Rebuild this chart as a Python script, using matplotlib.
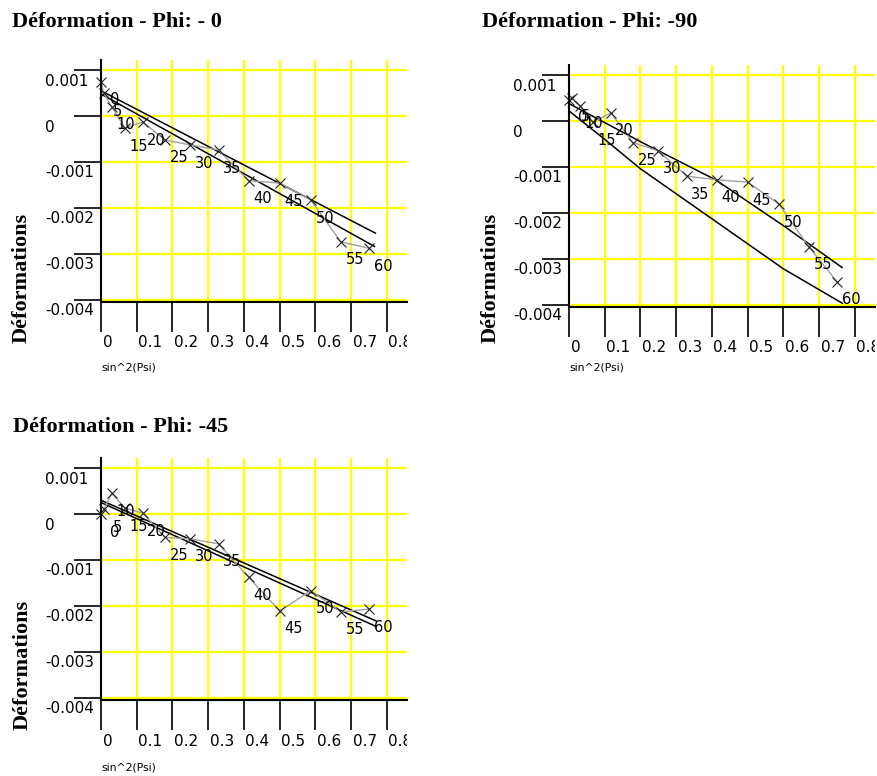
"""
deformation vs sin^2(psi) for three phi directions
"""
import matplotlib
matplotlib.use("Agg")
import matplotlib.pyplot as plt
from matplotlib.transforms import (Bbox, TransformedBbox,
                                   blended_transform_factory, offset_copy)

# sin^2(psi) positions of the measured points, psi = 0..60
sin2psi = [0, 0.0076, 0.0302, 0.067, 0.117, 0.179, 0.25,
           0.329, 0.413, 0.5, 0.587, 0.671, 0.75]
psi_labels = ["0", "5", "10", "15", "20", "25", "30",
              "35", "40", "45", "50", "55", "60"]

# measured strains
def_phi0 = [0.00075, 0.0005, 0.0002, -0.00026, -0.00013, -0.00052, -0.00063,
            -0.00074, -0.00141, -0.00146, -0.00183, -0.00274, -0.00288]
def_phi90 = [0.00046, 0.0005, 0.00033, -0.00003, 0.00018, -0.00047, -0.00065,
             -0.0012, -0.00128, -0.00133, -0.00181, -0.00274, -0.0035]
def_phi45 = [0.0, 0.0001, 0.00045, 0.00013, 0.00002, -0.00051, -0.00054,
             -0.00065, -0.00138, -0.00211, -0.00167, -0.00213, -0.00207]

# fitted curves (two per panel)
fit_phi0 = [([0, 0.7675], [0.00055, -0.00255]),
            ([0, 0.765], [0.00048, -0.00284])]
fit_phi90 = [([0, 0.2, 0.41, 0.6, 0.764],
              [0.00038, -0.00045, -0.00128, -0.00228, -0.00319]),
             ([0, 0.1, 0.2, 0.4, 0.6, 0.765],
              [0.00022, -0.0004, -0.00104, -0.00213, -0.00322, -0.00397])]
fit_phi45 = [([0, 0.77], [0.0003, -0.00233]),
             ([0, 0.77], [0.00025, -0.00245])]

x_ticks = [0, 0.1, 0.2, 0.3, 0.4, 0.5, 0.6, 0.7, 0.8]
x_ticklabels = ["0", "0.1", "0.2", "0.3", "0.4", "0.5", "0.6", "0.7", "0.8"]
y_ticks = [0.001, 0, -0.001, -0.002, -0.003, -0.004]
y_ticklabels = ["0.001", "0", "-0.001", "-0.002", "-0.003", "-0.004"]

W, H = 877, 776
AX_W, AX_H = 306, 242
fig = plt.figure(figsize=(W / 100, H / 100), dpi=100)
fig.patch.set_facecolor("white")

SERIF = "Liberation Serif"
SANS = "DejaVu Sans"


def px_axes(left, top):
    return fig.add_axes([left / W, 1 - (top + AX_H) / H, AX_W / W, AX_H / H])


def draw_panel(left, top, title, title_xy, ylabel_xy, xlabel_y, values, fits):
    ax = px_axes(left, top)
    ax.set_xlim(0, 0.856)
    ax.set_ylim(-0.00405, 0.00122)
    ax.set_facecolor("white")
    for s in ("top", "right"):
        ax.spines[s].set_visible(False)
    for s in ("left", "bottom"):
        ax.spines[s].set_linewidth(1.5)
        ax.spines[s].set_color("black")

    ax.set_xticks(x_ticks)
    ax.set_yticks(y_ticks)
    ax.tick_params(axis="x", direction="out", length=21.6, width=1.2,
                   color="black", labelbottom=False)
    ax.tick_params(axis="y", direction="out", length=19.4, width=1.2,
                   color="black", labelleft=False)
    ax.grid(True, color="#ffff00", linewidth=1.6)
    ax.set_axisbelow(True)

    # tick labels placed by hand (left aligned, under the tick line)
    ytr = offset_copy(blended_transform_factory(ax.transAxes, ax.transData),
                      fig=fig, x=0, y=-11, units="dots")
    for v, lab in zip(y_ticks, y_ticklabels):
        ax.text(-56 / AX_W, v, lab, transform=ytr, ha="left", va="center",
                fontsize=11, family=SANS, clip_on=False)

    xtr = offset_copy(blended_transform_factory(ax.transData, ax.transAxes),
                      fig=fig, x=1.5, y=-41, units="dots")
    clip = TransformedBbox(Bbox([[-0.5, -1], [1, 1]]), ax.transAxes)
    for v, lab in zip(x_ticks, x_ticklabels):
        t = ax.text(v, 0, lab, transform=xtr, ha="left", va="center",
                    fontsize=11, family=SANS)
        t.set_clip_box(clip)
        t.set_clip_on(True)

    # fitted curves
    for fx, fy in fits:
        ax.plot(fx, fy, color="black", lw=1.1, clip_on=False)

    # measurements
    ax.plot(sin2psi, values, color="#a0a0a0", lw=1.0, marker="x",
            mec="#222222", ms=7.5, mew=0.8, clip_on=False)
    for x, y, lab in zip(sin2psi, values, psi_labels):
        ax.annotate(lab, (x, y), xytext=(10, -13), textcoords="offset points",
                    ha="center", va="center", fontsize=10.5, family=SANS)

    fig.text(title_xy[0] / W, 1 - title_xy[1] / H, title, ha="left",
             va="baseline", fontsize=16, family=SERIF, fontweight="bold")
    fig.text(ylabel_xy[0] / W, 1 - ylabel_xy[1] / H, "Déformations",
             rotation=90, ha="center", va="center", fontsize=16,
             family=SERIF, fontweight="bold")
    fig.text(left / W, 1 - xlabel_y / H, "sin^2(Psi)", ha="left",
             va="center", fontsize=7.8, family=SANS)
    return ax


draw_panel(101, 60, "Déformation - Phi: - 0", (12, 27), (22, 278), 368,
           def_phi0, fit_phi0)
draw_panel(569, 65, "Déformation - Phi: -90", (482, 27), (491, 278), 367,
           def_phi90, fit_phi90)
draw_panel(101, 458, "Déformation - Phi: -45", (13, 432), (23, 665), 767,
           def_phi45, fit_phi45)

fig.savefig("out.png", dpi=100)
